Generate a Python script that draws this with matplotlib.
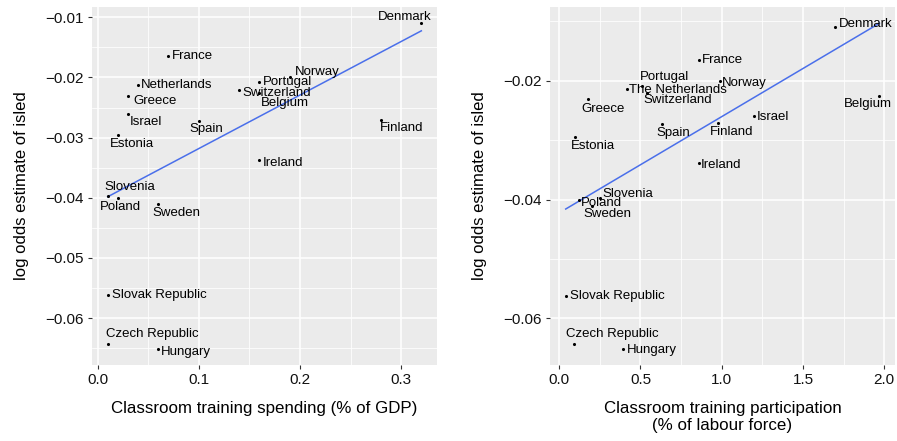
import numpy as np
import matplotlib
matplotlib.use("Agg")
import matplotlib.pyplot as plt
from matplotlib.ticker import FixedLocator

plt.rcParams["font.family"] = ["Liberation Sans", "DejaVu Sans"]

countries = ["Denmark", "France", "Netherlands", "Greece", "Israel", "Estonia",
             "Spain", "Norway", "Portugal", "Switzerland", "Belgium", "Finland",
             "Ireland", "Slovenia", "Poland", "Sweden", "Slovak Republic",
             "Czech Republic", "Hungary"]
countries_right = ["Denmark", "France", "The Netherlands", "Greece", "Israel",
                   "Estonia", "Spain", "Norway", "Portugal", "Switzerland",
                   "Belgium", "Finland", "Ireland", "Slovenia", "Poland",
                   "Sweden", "Slovak Republic", "Czech Republic", "Hungary"]

# log odds estimate of isled
log_odds = [-0.0110, -0.0165, -0.0213, -0.0231, -0.0260, -0.0295,
            -0.0272, -0.0200, -0.0208, -0.0221, -0.0226, -0.0271,
            -0.0338, -0.0397, -0.0401, -0.0410, -0.0562, -0.0643, -0.0651]
# classroom training spending, % of GDP
spending = [0.32, 0.07, 0.04, 0.03, 0.03, 0.02, 0.10, 0.19, 0.16, 0.14,
            0.16, 0.28, 0.16, 0.01, 0.02, 0.06, 0.01, 0.01, 0.06]
# classroom training participation, % of labour force
participation = [1.70, 0.86, 0.42, 0.18, 1.20, 0.10, 0.63, 0.99, 0.51, 0.54,
                 1.97, 0.98, 0.86, 0.25, 0.12, 0.20, 0.04, 0.09, 0.39]

left_yticks = [-0.01, -0.02, -0.03, -0.04, -0.05, -0.06]
left_xticks = [0.0, 0.1, 0.2, 0.3]
right_yticks = [-0.02, -0.04, -0.06]
right_xticks = [0.0, 0.5, 1.0, 1.5, 2.0]

# label placement (pixel offset from the point, alignment), repel-style
left_offsets = [(-17, 6, "center"), (3, 0, "left"), (3, 0, "left"),
                (5, -5, "left"), (2, -8, "left"), (14, -9, "center"),
                (8, -8, "center"), (5, 5, "left"), (3, 0, "left"),
                (3, -3, "left"), (25, -10, "center"), (-1, -8, "left"),
                (3, -3, "left"), (22, 9, "center"), (3, -9, "center"),
                (18, -9, "center"), (4, 0, "left"), (-2, 10, "left"),
                (3, -3, "left")]
right_offsets = [(3, 3, "left"), (3, 0, "left"), (2, -1, "left"),
                 (15, -10, "center"), (3, -1, "left"), (17, -9, "center"),
                 (12, -9, "center"), (2, -2, "left"), (22, 9, "center"),
                 (31, -7, "center"), (-11, -8, "center"), (13, -9, "center"),
                 (2, -2, "left"), (3, 4, "left"), (2, -3, "left"),
                 (16, -8, "center"), (4, 0, "left"), (38, 10, "center"),
                 (4, -1, "left")]

fig = plt.figure(figsize=(8.97, 4.41), dpi=100)
ax1 = fig.add_axes([0.1026, 0.1723, 0.3846, 0.8118])
ax2 = fig.add_axes([0.6132, 0.1723, 0.3846, 0.8118])


def minor_between(ticks):
    t = sorted(ticks)
    step = t[1] - t[0]
    return [t[0] - step / 2] + [a + step / 2 for a in t]


def panel(ax, x, names, offsets, xticks, yticks, xlabel, xfmt, yfmt):
    x = np.asarray(x)
    y = np.asarray(log_odds)
    ax.set_facecolor("#EBEBEB")
    for s in ax.spines.values():
        s.set_visible(False)
    ax.set_axisbelow(True)

    ax.scatter(x, y, s=5, color="black", zorder=3, linewidths=0)
    # linear fit over the observed range
    slope, icpt = np.polyfit(x, y, 1)
    xs = np.array([x.min(), x.max()])
    ax.plot(xs, icpt + slope * xs, color="#4A6FEA", lw=1.1, zorder=2)

    for xi, yi, nm, (dx, dy, ha) in zip(x, y, names, offsets):
        ax.annotate(nm, (xi, yi), xytext=(dx, dy), textcoords="offset pixels",
                    ha=ha, va="center", fontsize=9.5, color="black", zorder=4)

    ax.margins(0.05)
    xl = ax.get_xlim()
    yl = ax.get_ylim()
    ax.set_xticks(xticks)
    ax.set_xticklabels([xfmt.format(v) for v in xticks])
    ax.set_yticks(yticks)
    ax.set_yticklabels([yfmt.format(v).replace("-", "\u2212") for v in yticks])
    ax.xaxis.set_minor_locator(FixedLocator(minor_between(xticks)))
    ax.yaxis.set_minor_locator(FixedLocator(minor_between(yticks)))
    ax.grid(which="major", color="white", lw=1.1)
    ax.grid(which="minor", color="white", lw=0.55)
    ax.set_xlim(xl)
    ax.set_ylim(yl)
    ax.tick_params(which="major", length=3, width=0.8, color="#333333",
                   labelsize=11, labelcolor="#111111", pad=3)
    ax.tick_params(which="minor", length=0)
    ax.set_xlabel(xlabel, fontsize=12.2, labelpad=10, linespacing=1.15)
    ax.set_ylabel("log odds estimate of isled", fontsize=12, labelpad=12)


panel(ax1, spending, countries, left_offsets, left_xticks, left_yticks,
      "Classroom training spending (% of GDP)", "{:.1f}", "{:.2f}")
panel(ax2, participation, countries_right, right_offsets, right_xticks,
      right_yticks, "Classroom training participation\n(% of labour force)",
      "{:.1f}", "{:.2f}")

fig.savefig("out.png", dpi=100)
